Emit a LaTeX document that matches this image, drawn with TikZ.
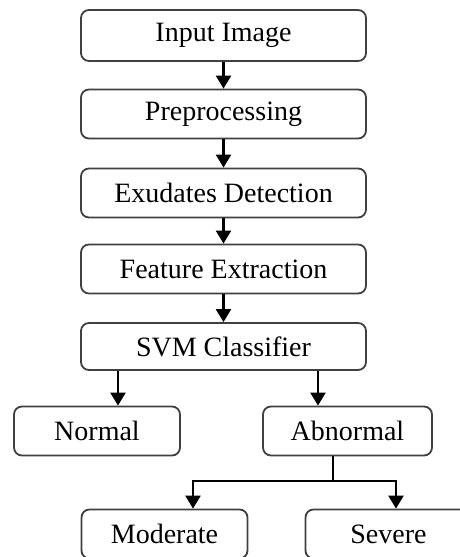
\documentclass[tikz,border=0pt]{standalone}
\usepackage{fontspec}
\setmainfont{Liberation Serif}
\usetikzlibrary{arrows.meta,positioning}

\begin{document}
\begin{tikzpicture}[x=0.5pt,y=-0.5pt,
    box/.style={draw=black!75,fill=white,rounded corners=4pt,line width=0.9pt,
                font=\fontsize{14}{16}\selectfont,minimum height=24.5pt,text centered},
    stage/.style={box,minimum width=142.5pt},
    leaf/.style={box,minimum width=83pt},
    arr/.style={-{Triangle[length=6.5pt,width=7.5pt]},line width=1.2pt}
  ]
  \clip (0,0) rectangle (460,557);
  % processing pipeline
  \node[stage,minimum height=25.5pt] (inp) at (223.5,35.5) {Input Image};
  \node[stage] (pre) at (223.5,114) {Preprocessing};
  \node[stage] (exu) at (223.5,193) {Exudates Detection};
  \node[stage] (feat) at (223.5,269) {Feature Extraction};
  \node[stage,minimum height=23.5pt] (svm) at (223.5,346.5) {SVM Classifier};
  % classes
  \node[leaf] (norm) at (97,431) {Normal};
  \node[leaf,minimum width=84.5pt] (abn) at (347.5,431) {Abnormal};
  \node[leaf] (mod) at (164.5,534) {Moderate};
  \node[leaf] (sev) at (388.5,534) {Severe};
  \coordinate (split) at (333,481);

  \draw[arr] (inp) -- (pre);
  \draw[arr] (pre) -- (exu);
  \draw[arr] (exu) -- (feat);
  \draw[arr] (feat) -- (svm);
  \draw[arr] ([xshift=10.5pt]norm.north |- svm.south) -- ([xshift=10.5pt]norm.north);
  \draw[arr] ([xshift=-14.75pt]abn.north |- svm.south) -- ([xshift=-14.75pt]abn.north);
  \draw[line width=1.2pt] (abn.south -| split) -- (split);
  \draw[arr] (split) -| ([xshift=14.25pt]mod.north);
  \draw[arr] (split) -| ([xshift=3.75pt]sev.north);
\end{tikzpicture}
\end{document}
